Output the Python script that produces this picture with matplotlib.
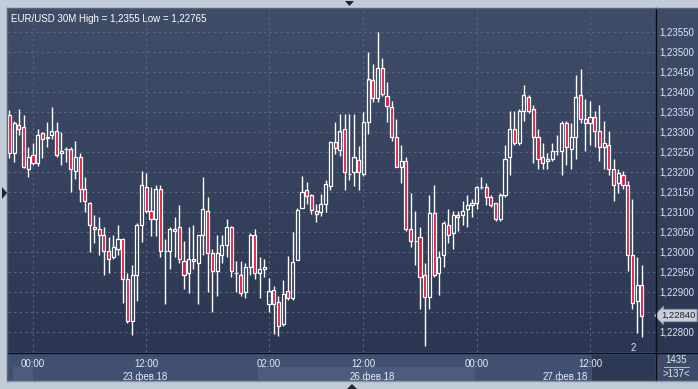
import numpy as np
import matplotlib
matplotlib.use('Agg')
import matplotlib.pyplot as plt
from matplotlib.ticker import FixedLocator, FuncFormatter
from matplotlib.lines import Line2D
from matplotlib.patches import Polygon, Rectangle

plt.rcParams['font.family'] = ['Liberation Sans', 'DejaVu Sans']

# ---------------- data (EUR/USD 30M candles) ----------------
opens = [1.23342, 1.23246, 1.23317, 1.23311, 1.23206, 1.23241, 1.23221, 1.23296, 1.23285, 1.23291,
         1.23300, 1.23246, 1.23256, 1.23256, 1.23201, 1.23236, 1.23156, 1.23121, 1.23061, 1.23056,
         1.23041, 1.23001, 1.22986, 1.23006, 1.23031, 1.22931, 1.22826, 1.22941, 1.23066, 1.23161,
         1.23101, 1.23081, 1.23156, 1.23001, 1.23001, 1.23051, 1.23061, 1.22976, 1.22946, 1.22981,
         1.22971, 1.23041, 1.23101, 1.22996, 1.22951, 1.22991, 1.23016, 1.23061, 1.22946, 1.22941,
         1.22900, 1.22961, 1.23041, 1.22946, 1.22956, 1.22870, 1.22905, 1.22875, 1.22820, 1.22900,
         1.22885, 1.22980, 1.23110, 1.23155, 1.23140, 1.23100, 1.23100, 1.23120, 1.23165, 1.23275,
         1.23255, 1.23305, 1.23195, 1.23200, 1.23230, 1.23195, 1.23325, 1.23430, 1.23385, 1.23460,
         1.23390, 1.23361, 1.23286, 1.23211, 1.23226, 1.23056, 1.23026, 1.23036, 1.22941, 1.22886,
         1.23096, 1.22946, 1.22991, 1.23066, 1.23046, 1.23091, 1.23091, 1.23106, 1.23116, 1.23121,
         1.23161, 1.23161, 1.23136, 1.23121, 1.23081, 1.23141, 1.23236, 1.23306, 1.23271, 1.23351,
         1.23386, 1.23356, 1.23286, 1.23236, 1.23226, 1.23231, 1.23251, 1.23251, 1.23321, 1.23256,
         1.23286, 1.23391, 1.23331, 1.23321, 1.23336, 1.23301, 1.23261, 1.23266, 1.23206, 1.23171,
         1.23191, 1.23166, 1.22991, 1.22876, 1.22916]
highs = [1.23355, 1.23327, 1.23357, 1.23342, 1.23261, 1.23271, 1.23306, 1.23300, 1.23325, 1.23361,
         1.23325, 1.23300, 1.23261, 1.23261, 1.23276, 1.23246, 1.23186, 1.23123, 1.23091, 1.23086,
         1.23061, 1.23036, 1.23041, 1.23066, 1.23033, 1.22946, 1.22966, 1.23071, 1.23201, 1.23196,
         1.23161, 1.23166, 1.23166, 1.23031, 1.23061, 1.23086, 1.23116, 1.23026, 1.23061, 1.23066,
         1.23041, 1.23186, 1.23136, 1.23006, 1.23041, 1.23041, 1.23081, 1.23063, 1.22976, 1.22976,
         1.22971, 1.23046, 1.23056, 1.22986, 1.22981, 1.22935, 1.22915, 1.22890, 1.22930, 1.22990,
         1.23050, 1.23110, 1.23190, 1.23175, 1.23143, 1.23120, 1.23145, 1.23180, 1.23277, 1.23325,
         1.23345, 1.23345, 1.23345, 1.23345, 1.23265, 1.23350, 1.23500, 1.23470, 1.23550, 1.23485,
         1.23425, 1.23376, 1.23331, 1.23266, 1.23236, 1.23146, 1.23101, 1.23061, 1.22971, 1.23141,
         1.23166, 1.23001, 1.23076, 1.23106, 1.23101, 1.23101, 1.23126, 1.23141, 1.23131, 1.23163,
         1.23186, 1.23171, 1.23141, 1.23122, 1.23146, 1.23266, 1.23351, 1.23351, 1.23356, 1.23416,
         1.23391, 1.23366, 1.23306, 1.23271, 1.23246, 1.23271, 1.23291, 1.23326, 1.23326, 1.23321,
         1.23441, 1.23456, 1.23381, 1.23376, 1.23351, 1.23366, 1.23326, 1.23301, 1.23231, 1.23206,
         1.23201, 1.23176, 1.23131, 1.22986, 1.22966]
lows = [1.23235, 1.23225, 1.23292, 1.23208, 1.23186, 1.23217, 1.23214, 1.23233, 1.23261, 1.23281,
        1.23236, 1.23216, 1.23225, 1.23150, 1.23181, 1.23125, 1.23100, 1.23000, 1.23021, 1.22991,
        1.22941, 1.22946, 1.22981, 1.22991, 1.22871, 1.22821, 1.22791, 1.22876, 1.23025, 1.23096,
        1.23039, 1.23039, 1.22986, 1.22870, 1.22956, 1.22986, 1.22971, 1.22906, 1.22896, 1.22956,
        1.22870, 1.22991, 1.22900, 1.22850, 1.22890, 1.22971, 1.22986, 1.22936, 1.22900, 1.22890,
        1.22885, 1.22941, 1.22931, 1.22885, 1.22936, 1.22850, 1.22795, 1.22790, 1.22815, 1.22880,
        1.22880, 1.22978, 1.23108, 1.23120, 1.23095, 1.23075, 1.23090, 1.23100, 1.23155, 1.23245,
        1.23240, 1.23155, 1.23180, 1.23165, 1.23155, 1.23190, 1.23295, 1.23375, 1.23375, 1.23390,
        1.23325, 1.23276, 1.23211, 1.23171, 1.23051, 1.23011, 1.22966, 1.22856, 1.22765, 1.22856,
        1.22936, 1.22891, 1.22961, 1.23021, 1.23006, 1.23051, 1.23066, 1.23061, 1.23086, 1.23106,
        1.23156, 1.23116, 1.23111, 1.23076, 1.23076, 1.23136, 1.23191, 1.23266, 1.23266, 1.23326,
        1.23346, 1.23221, 1.23206, 1.23206, 1.23206, 1.23226, 1.23241, 1.23191, 1.23216, 1.23206,
        1.23231, 1.23321, 1.23251, 1.23266, 1.23261, 1.23226, 1.23206, 1.23191, 1.23126, 1.23146,
        1.23156, 1.22951, 1.22856, 1.22796, 1.22786]
closes = [1.23246, 1.23321, 1.23306, 1.23211, 1.23236, 1.23221, 1.23291, 1.23281, 1.23286, 1.23300,
          1.23241, 1.23251, 1.23256, 1.23206, 1.23236, 1.23156, 1.23126, 1.23066, 1.23056, 1.23041,
          1.23001, 1.22981, 1.23011, 1.23031, 1.22931, 1.22826, 1.22941, 1.23066, 1.23166, 1.23101,
          1.23081, 1.23156, 1.23001, 1.23001, 1.23056, 1.23056, 1.22981, 1.22941, 1.22981, 1.22976,
          1.23041, 1.23106, 1.22996, 1.22951, 1.22996, 1.23016, 1.23061, 1.22951, 1.22946, 1.22896,
          1.22961, 1.23041, 1.22946, 1.22956, 1.22961, 1.22900, 1.22870, 1.22815, 1.22895, 1.22885,
          1.22975, 1.23105, 1.23150, 1.23140, 1.23105, 1.23095, 1.23120, 1.23170, 1.23275, 1.23260,
          1.23300, 1.23200, 1.23195, 1.23235, 1.23200, 1.23325, 1.23430, 1.23385, 1.23460, 1.23395,
          1.23365, 1.23286, 1.23211, 1.23226, 1.23056, 1.23026, 1.23026, 1.22936, 1.22886, 1.23096,
          1.22941, 1.22986, 1.23071, 1.23041, 1.23091, 1.23086, 1.23101, 1.23116, 1.23121, 1.23161,
          1.23161, 1.23136, 1.23116, 1.23081, 1.23141, 1.23231, 1.23306, 1.23271, 1.23351, 1.23391,
          1.23351, 1.23286, 1.23231, 1.23221, 1.23231, 1.23251, 1.23251, 1.23321, 1.23261, 1.23286,
          1.23386, 1.23331, 1.23321, 1.23336, 1.23301, 1.23261, 1.23271, 1.23206, 1.23166, 1.23196,
          1.23166, 1.22991, 1.22871, 1.22916, 1.22840]

price_ticks = [1.2280, 1.2285, 1.2290, 1.2295, 1.2300, 1.2305, 1.2310, 1.2315,
               1.2320, 1.2325, 1.2330, 1.2335, 1.2340, 1.2345, 1.2350, 1.2355]
hidden_price_label = 1.2285   # covered by the last-price marker in the reference
time_tick_idx = [5, 29, 55, 75, 99, 123]
time_tick_labels = ['00:00', '12:00', '02:00', '12:00', '00:00', '12:00']
date_label_idx = [28.7, 76.8, 117.7]
date_labels = ['23.фев.18', '26.фев.18', '27.фев.18']
title = 'EUR/USD 30M High = 1,2355 Low = 1,22765'
last_price = closes[-1]

# ---------------- layout ----------------
W, H = 698, 389
fig = plt.figure(figsize=(W / 100, H / 100), dpi=100)
fig.patch.set_facecolor('#c2ccd8')


def frac(x0, y0, x1, y1):
    return [x0 / W, 1 - y1 / H, (x1 - x0) / W, (y1 - y0) / H]


def gradient(ax, top, bottom):
    c1 = np.array(matplotlib.colors.to_rgb(top))
    c2 = np.array(matplotlib.colors.to_rgb(bottom))
    t = np.linspace(0, 1, 256)[:, None]
    img = (c1 * (1 - t) + c2 * t)[:, None, :]
    ax.imshow(img, extent=(0, 1, 0, 1), transform=ax.transAxes, aspect='auto',
              zorder=0, interpolation='bilinear')


TOP_C, BOT_C = '#404d69', '#2b3652'

# price panel
axp = fig.add_axes(frac(655, 8, 698, 352), zorder=0)
gradient(axp, TOP_C, BOT_C)
axp.set_axis_off()

# time panel
axt = fig.add_axes(frac(8, 352, 655, 381), zorder=0)
axt.set_axis_off()

# corner panel
axc = fig.add_axes(frac(655, 352, 698, 381), zorder=0)
axc.set_xlim(0, 1); axc.set_ylim(0, 1)
axc.add_patch(Rectangle((0, 0), 1, 1, facecolor='#3d4b68', edgecolor='none'))
axc.set_axis_off()
axc.text(0.5, 0.73, '1435', color='#dce6f5', fontsize=7, ha='center', va='center')
axc.plot([0.2, 0.8], [0.5, 0.5], color='#aab6c8', lw=0.8)
axc.text(0.5, 0.24, '>137<', color='#dce6f5', fontsize=7, ha='center', va='center')

# main chart
ax = fig.add_axes(frac(8, 8, 655, 352), zorder=2)
gradient(ax, TOP_C, BOT_C)

n = len(opens)
x = np.arange(n)
o = np.array(opens); h = np.array(highs); l = np.array(lows); c = np.array(closes)
top = np.maximum(o, c); bot = np.minimum(o, c)
up = c >= o
red = '#e3143f'

ax.vlines(x, top, h, color='white', lw=1.0, zorder=3)
ax.vlines(x, l, bot, color='white', lw=1.0, zorder=3)
ax.bar(x[up], (top - bot)[up], bottom=bot[up], width=0.66, facecolor='none',
       edgecolor='white', linewidth=0.9, zorder=4)
ax.bar(x[~up], (top - bot)[~up], bottom=bot[~up], width=0.66, facecolor=red,
       edgecolor='white', linewidth=0.9, zorder=4)

x_left = (8 - 9.4) / 4.72
x_right = (655 - 9.4) / 4.72
ax.set_xlim(x_left, x_right)
ax.set_ylim(1.2355 - (352 - 31.5) * 0.000025, 1.2355 + (31.5 - 8) * 0.000025)


def price_fmt(v, p):
    if abs(v - hidden_price_label) < 1e-7:
        return ''
    return f'{v:.5f}'.replace('.', ',')


ax.yaxis.tick_right()
ax.yaxis.set_major_locator(FixedLocator(price_ticks))
ax.yaxis.set_major_formatter(FuncFormatter(price_fmt))
ax.tick_params(axis='y', length=0, pad=3, labelsize=7, labelcolor='#dbe5f4')

ax.xaxis.set_major_locator(FixedLocator(time_tick_idx))
ax.set_xticklabels(time_tick_labels)
ax.xaxis.set_minor_locator(FixedLocator(date_label_idx))
ax.set_xticklabels(date_labels, minor=True)
ax.tick_params(axis='x', which='major', length=0, pad=5, labelsize=7, labelcolor='#e4ecf8')
ax.tick_params(axis='x', which='minor', length=0, pad=14, labelsize=7, labelcolor='#e4ecf8')

ax.grid(axis='y', color='#56647f', linestyle=(0, (2.2, 2.8)), linewidth=0.8, zorder=1)
ax.grid(axis='x', which='major', color='#56647f', linestyle=(0, (2.2, 2.8)), linewidth=0.8, zorder=1)
ax.set_axisbelow(True)
for s in ax.spines.values():
    s.set_visible(False)

ax.text(0.004, 0.982, title, transform=ax.transAxes, color='white', fontsize=7,
        ha='left', va='top', zorder=6)

# last price label
ax.text(1.0 + 6 / 647, last_price, '1,22840', transform=ax.get_yaxis_transform(),
        color='#1c2230', fontsize=6.8, ha='left', va='center', zorder=7, clip_on=False,
        bbox=dict(boxstyle='larrow,pad=0.18', facecolor='#c9ced8', edgecolor='#8e98a8', lw=0.6))

ax.text(132.2, 1.2355 - (348 - 31.5) * 0.000025, '2', color='#dce6f5', fontsize=7,
        ha='center', va='center', zorder=6)

# time panel shading
axt.set_xlim(x_left, x_right)
axt.set_ylim(0, 1)
axt.add_patch(Rectangle((x_left, 0), x_right - x_left, 1, facecolor='#405070', edgecolor='none'))
for a, b in [(0.76, 4.9), (52.7, 98.6)]:
    axt.add_patch(Rectangle((a, 0.0), b - a, 0.48, facecolor='#4c5c7b', edgecolor='none'))
axt.add_patch(Rectangle(((592 - 9.4) / 4.72, 0.0), x_right, 0.9, facecolor='#2c3854', edgecolor='none'))

# separators and borders (figure pixel coords)
def px_line(xs, ys, color, lw=1.0):
    fig.add_artist(Line2D([v / W for v in xs], [1 - v / H for v in ys], color=color, lw=lw,
                          transform=fig.transFigure, zorder=10))

px_line([655.5, 655.5], [8, 381], '#0b0e16')
px_line([8, 698], [352.5, 352.5], '#0b0e16')
px_line([7.5, 7.5], [8, 381], '#59647a')
px_line([7.5, 698], [7.5, 7.5], '#59647a')
px_line([7.5, 698], [381, 381], '#8a96a8')

def px_poly(pts, color):
    fig.add_artist(Polygon([(a / W, 1 - b / H) for a, b in pts], closed=True, facecolor=color,
                           edgecolor='none', transform=fig.transFigure, zorder=10))

px_poly([(2, 187), (7, 193), (2, 199)], '#1c2332')
px_poly([(345, 1), (354, 1), (349.5, 6)], '#1c2332')
px_poly([(347, 389), (357, 389), (352, 384)], '#1c2332')

fig.savefig('out.png', dpi=100, facecolor=fig.get_facecolor())
